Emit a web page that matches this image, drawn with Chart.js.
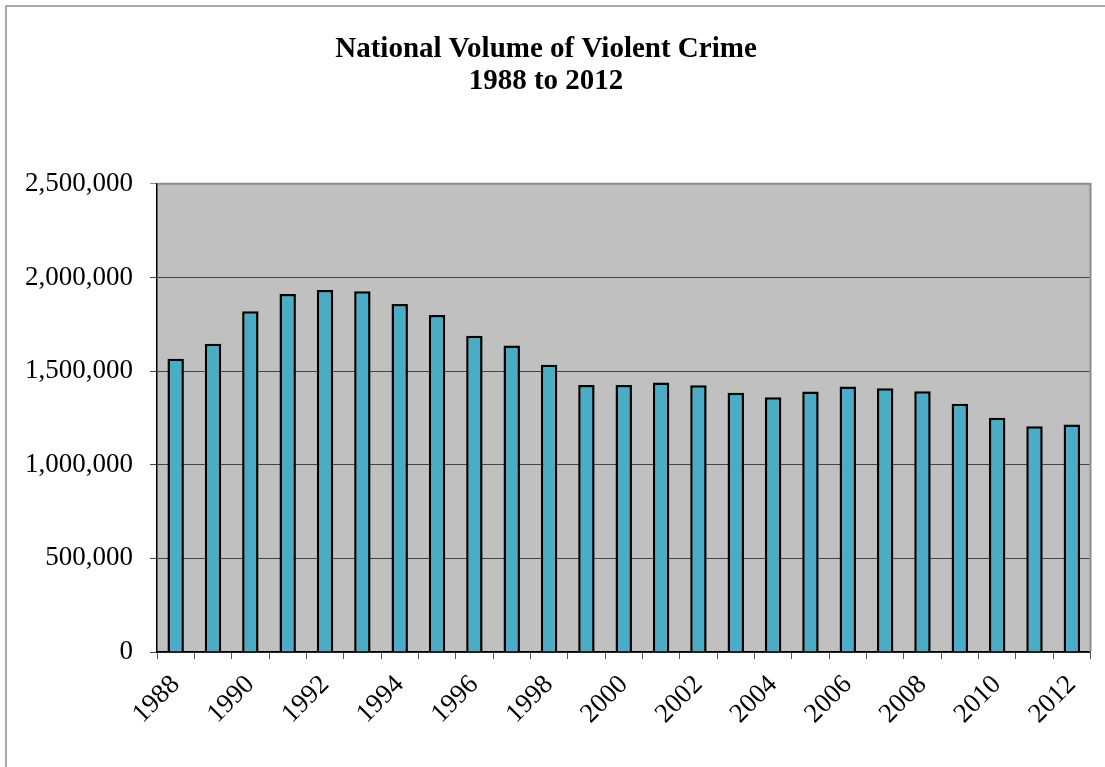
<!DOCTYPE html>
<html>
<head>
<meta charset="utf-8">
<script src="https://cdn.jsdelivr.net/npm/chart.js@4/dist/chart.umd.min.js"></script>
<style>
  html, body { margin: 0; padding: 0; background: #fff; }
  #wrap { width: 1105px; height: 767px; position: relative; }
</style>
</head>
<body>
<div id="wrap"><canvas id="crime-chart"></canvas></div>
<script>
const years = ["1988", "1989", "1990", "1991", "1992", "1993", "1994", "1995", "1996",
    "1997", "1998", "1999", "2000", "2001", "2002", "2003", "2004", "2005", "2006",
    "2007", "2008", "2009", "2010", "2011", "2012"];
const violentCrimes = [1566221, 1646037, 1820127, 1911767, 1932274, 1926017, 1857670,
    1798792, 1688540, 1636096, 1533887, 1426044, 1425486, 1439480, 1423677, 1383676,
    1360088, 1390745, 1418043, 1408337, 1392628, 1325896, 1251248, 1206005, 1214462];
const titleLines = ["National Volume of Violent Crime", "1988 to 2012"];

const serif = "'Liberation Serif', 'Times New Roman', serif";

// grey plot background + outer frame
const frame = {
    id: "frame",
    beforeDraw(chart) {
        const { ctx, chartArea: a } = chart;
        ctx.save();
        ctx.strokeStyle = "#8c8c8c";
        ctx.lineWidth = 1.5;
        ctx.strokeRect(6, 6, 1300, 1000);
        ctx.fillStyle = "#c0c0c0";
        ctx.fillRect(a.left, a.top, a.right - a.left, a.bottom - a.top);
        ctx.restore();
    },
    afterDatasetsDraw(chart) {
        const { ctx, chartArea: a } = chart;
        ctx.save();
        ctx.strokeStyle = "#8c8c8c";
        ctx.lineWidth = 2;
        ctx.beginPath();
        ctx.moveTo(a.left, a.top);
        ctx.lineTo(a.right, a.top);
        ctx.lineTo(a.right, a.bottom);
        ctx.stroke();
        ctx.restore();
    }
};

let crimeChart = new Chart(document.getElementById("crime-chart").getContext("2d"), {
    type: "bar",
    data: {
        labels: years,
        datasets: [{
            label: "Violent crime",
            data: violentCrimes,
            backgroundColor: "#4bacc6",
            borderColor: "#000",
            borderWidth: 2.5,
            categoryPercentage: 1,
            barPercentage: 0.44,
        }],
    },
    options: {
        responsive: true,
        maintainAspectRatio: false,
        animation: false,
        layout: { padding: { top: 34, right: 13, left: 0, bottom: 0 } },
        plugins: {
            legend: { display: false },
            tooltip: { enabled: false },
            title: {
                display: true,
                text: titleLines,
                color: "#000",
                font: { family: serif, size: 29, weight: "bold", lineHeight: 1.1 },
                padding: { top: 0, bottom: 86 },
            },
        },
        scales: {
            x: {
                border: { color: "#000", width: 1.5 },
                grid: { drawOnChartArea: false, drawTicks: true, tickLength: 7, color: "#555", offset: true },
                ticks: {
                    autoSkip: false,
                    maxRotation: 45,
                    minRotation: 45,
                    padding: 10,
                    color: "#000",
                    font: { family: serif, size: 27 },
                    callback: function (v, i) { return i % 2 === 0 ? this.getLabelForValue(v) : ""; },
                },
                afterFit(scale) { scale.height = 115; },
            },
            y: {
                min: 0,
                max: 2500000,
                border: { color: "#000", width: 1.5 },
                grid: {
                    color: (c) => (c.tick && c.tick.value === 2500000 ? "#8c8c8c" : "#444"),
                    tickLength: 7,
                },
                ticks: {
                    stepSize: 500000,
                    padding: 17,
                    color: "#000",
                    font: { family: serif, size: 27 },
                    callback: (v) => v.toLocaleString("en-US"),
                },
                afterFit(scale) { scale.width = 157; },
            },
        },
    },
    plugins: [frame],
});
</script>
</body>
</html>
